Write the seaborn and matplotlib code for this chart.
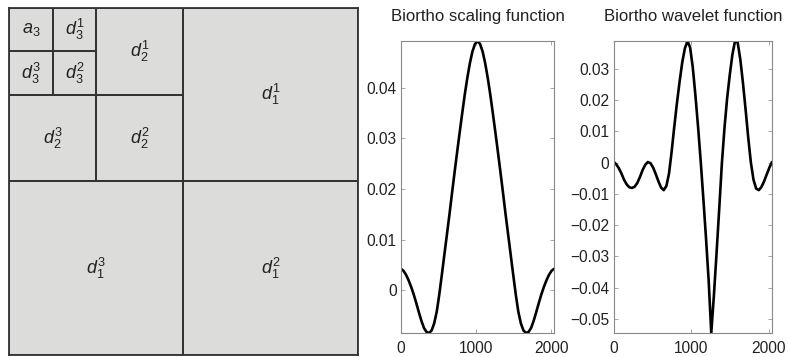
import matplotlib
matplotlib.use("Agg")
import matplotlib.pyplot as plt
from matplotlib.patches import Rectangle
import seaborn as sns
import pandas as pd

sns.set_style("ticks")
plt.rcParams["font.family"] = ["Liberation Sans", "DejaVu Sans"]
plt.rcParams["mathtext.fontset"] = "custom"
plt.rcParams["mathtext.it"] = "Liberation Sans:italic"
plt.rcParams["mathtext.rm"] = "Liberation Sans"

# sample positions of both functions
sample_pos = list(range(0, 2041, 34))

scaling_vals = [
    0.0042, 0.0038, 0.0030, 0.0019, 0.0006, -0.0009, -0.0026, -0.0044, -0.0061, -0.0075,
    -0.0083, -0.0085, -0.0080, -0.0066, -0.0043, -0.0009, 0.0030, 0.0070, 0.0110, 0.0150,
    0.0192, 0.0233, 0.0273, 0.0312, 0.0350, 0.0387, 0.0420, 0.0449, 0.0472, 0.0487,
    0.0493,
    0.0487, 0.0472, 0.0449, 0.0420, 0.0387, 0.0350, 0.0312, 0.0273, 0.0233, 0.0192,
    0.0150, 0.0110, 0.0070, 0.0030, -0.0009, -0.0043, -0.0066, -0.0080, -0.0085, -0.0083,
    -0.0075, -0.0061, -0.0044, -0.0026, -0.0009, 0.0006, 0.0019, 0.0030, 0.0038, 0.0042,
]

wavelet_vals = [
    0.0003, -0.0005, -0.0018, -0.0035, -0.0055, -0.0070, -0.0079, -0.0081, -0.0077, -0.0065,
    -0.0046, -0.0024, -0.0007, 0.0002, -0.0002, -0.0016, -0.0037, -0.0060, -0.0080, -0.0088,
    -0.0075, -0.0035, 0.0035, 0.0115, 0.0190, 0.0258, 0.0320, 0.0365, 0.0389, 0.0368,
    0.0305, 0.0215, 0.0115, 0.0005, -0.0115, -0.0240, -0.0375, -0.0545, -0.0425, -0.0290,
    -0.0150, -0.0005, 0.0110, 0.0205, 0.0280, 0.0345, 0.0389, 0.0384, 0.0330, 0.0255,
    0.0170, 0.0080, 0.0000, -0.0055, -0.0083, -0.0088, -0.0078, -0.0060, -0.0038, -0.0016,
    0.0002,
]

scaling_yticks = [0, 0.01, 0.02, 0.03, 0.04]
wavelet_yticks = [-0.05, -0.04, -0.03, -0.02, -0.01, 0, 0.01, 0.02, 0.03]
x_ticks = [0, 1000, 2000]
levels = [1, 2, 3]

df = pd.DataFrame({"n": sample_pos, "scaling": scaling_vals, "wavelet": wavelet_vals})

fig = plt.figure(figsize=(7.88, 3.57), dpi=100)

# subband layout of the 3-level decomposition
ax_sq = fig.add_axes([0.0114, 0.0056, 0.4429, 0.972])
ax_sq.set_facecolor("#dcdcda")
ax_sq.set_xlim(0, 1)
ax_sq.set_ylim(1, 0)
ax_sq.set_xticks([])
ax_sq.set_yticks([])
for sp in ax_sq.spines.values():
    sp.set_color("#333333")
    sp.set_linewidth(1.3)

line_kw = dict(fill=False, edgecolor="#333333", linewidth=1.3)
lab_kw = dict(ha="center", va="center", fontsize=13, color="#222222")
for j in levels:
    s = 0.5 ** j
    cells = [(1, s, 0), (2, s, s), (3, 0, s)]
    for k, x0, y0 in cells:
        ax_sq.add_patch(Rectangle((x0, y0), s, s, **line_kw))
        ax_sq.text(x0 + s / 2, y0 + s / 2, rf"$d_{{{j}}}^{{{k}}}$", **lab_kw)
s3 = 0.5 ** levels[-1]
ax_sq.add_patch(Rectangle((0, 0), s3, s3, **line_kw))
ax_sq.text(s3 / 2, s3 / 2, rf"$a_{{{levels[-1]}}}$", **lab_kw)


def fmt(t):
    return f"{t:g}".replace("-", "\u2212")


def style_axes(ax, col, yticks, title):
    sns.lineplot(data=df, x="n", y=col, color="black", linewidth=1.9, ax=ax)
    ax.set_xlim(sample_pos[0], sample_pos[-1])
    ax.set_ylim(df[col].min(), df[col].max())
    ax.set_xticks(x_ticks)
    ax.set_xticklabels([fmt(t) for t in x_ticks])
    ax.set_yticks(yticks)
    ax.set_yticklabels([fmt(t) for t in yticks])
    ax.set_xlabel("")
    ax.set_ylabel("")
    ax.tick_params(direction="in", top=True, right=True, length=3, width=0.6,
                   labelsize=11.2, colors="#999999", labelcolor="#222222")
    ax.tick_params(axis="y", pad=3)
    ax.tick_params(axis="x", pad=5.5)
    for sp in ax.spines.values():
        sp.set_color("#888888")
        sp.set_linewidth(0.8)
    ax.set_title(title, fontsize=12.1, color="#222222", pad=14.5)


ax_s = fig.add_axes([0.5089, 0.0672, 0.1942, 0.818])
style_axes(ax_s, "scaling", scaling_yticks, "Biortho scaling function")

ax_w = fig.add_axes([0.7786, 0.0672, 0.2011, 0.818])
style_axes(ax_w, "wavelet", wavelet_yticks, "Biortho wavelet function")

fig.savefig("out.png", dpi=100, facecolor="white")
